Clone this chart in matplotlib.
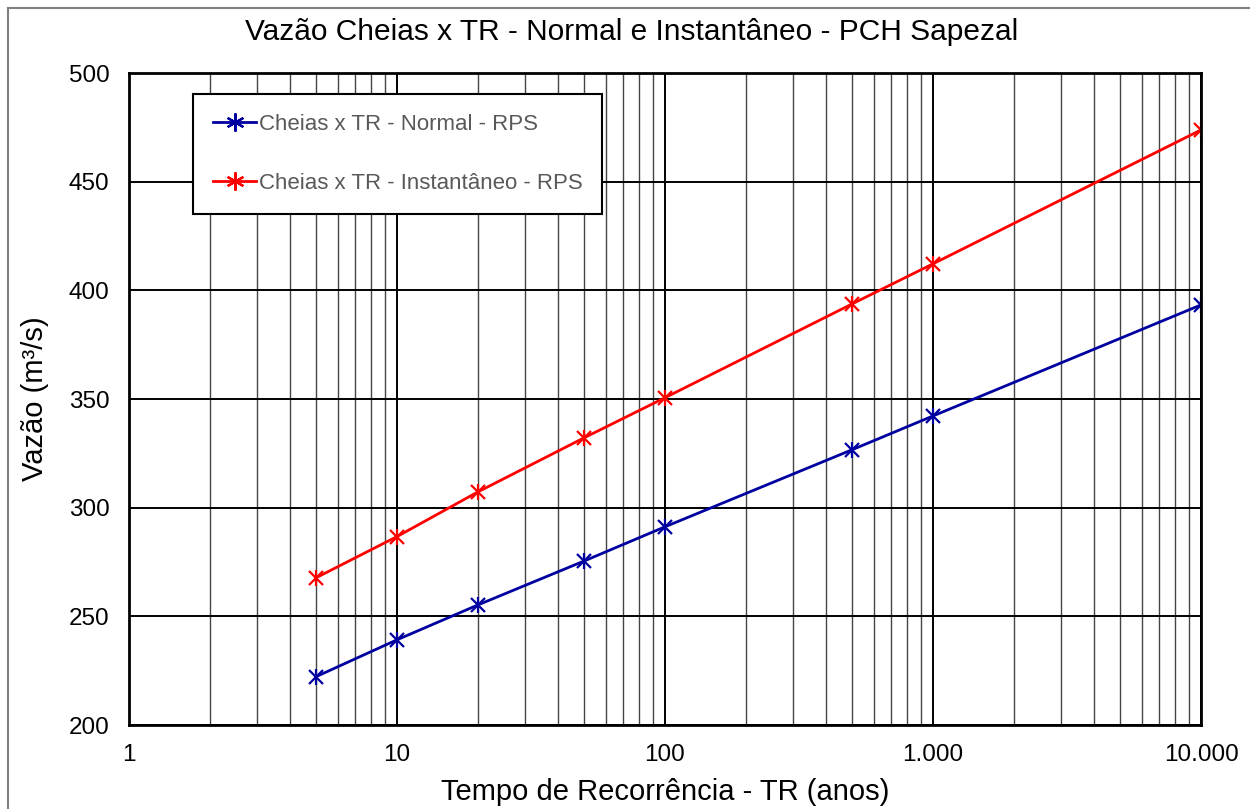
import matplotlib.pyplot as plt
from matplotlib.lines import Line2D
from matplotlib.ticker import FixedLocator, FuncFormatter, LogLocator, NullFormatter

# Tempo de recorrencia (anos) and flood discharges (m3/s)
tr_anos = [5, 10, 20, 50, 100, 500, 1000, 10000]
vazao_normal = [222.3, 239.2, 255.2, 275.5, 291.2, 326.7, 342.2, 393.3]
vazao_inst = [267.8, 286.7, 307.2, 332.2, 350.6, 393.8, 412.2, 473.8]

x_ticks = [1, 10, 100, 1000, 10000]
y_ticks = [200, 250, 300, 350, 400, 450, 500]

plt.rcParams["font.family"] = ["Liberation Sans", "DejaVu Sans"]

fig = plt.figure(figsize=(12.5, 8.09), dpi=100)
ax = fig.add_axes([129 / 1250, 1 - 725 / 809, (1201 - 129) / 1250, (725 - 73) / 809])

# Minor gridlines first, then major on top
ax.set_xscale("log")
ax.set_xlim(1, 10000)
ax.set_ylim(200, 500)
ax.xaxis.set_major_locator(FixedLocator(x_ticks))
ax.xaxis.set_minor_locator(LogLocator(base=10, subs=range(2, 10)))
ax.xaxis.set_minor_formatter(NullFormatter())
ax.xaxis.set_major_formatter(FuncFormatter(lambda v, p: f"{int(v):,}".replace(",", ".")))
ax.yaxis.set_major_locator(FixedLocator(y_ticks))
ax.grid(which="minor", axis="x", color="#444444", linewidth=1.0)
ax.grid(which="major", axis="both", color="black", linewidth=1.4)
ax.set_axisbelow(True)

ax.plot(tr_anos, vazao_normal, color="#0000a0", linewidth=2, marker="x",
        markersize=10, markeredgewidth=1.6, label="Cheias x TR - Normal - RPS")
ax.plot(tr_anos, vazao_inst, color="#ff0000", linewidth=2, marker="x",
        markersize=10, markeredgewidth=1.6, label="Cheias x TR - Instantâneo - RPS")
# star-like markers: overlay a short vertical tick
ax.plot(tr_anos, vazao_normal, linestyle="none", marker="|", markersize=11,
        markeredgewidth=1.6, color="#0000a0")
ax.plot(tr_anos, vazao_inst, linestyle="none", marker="|", markersize=11,
        markeredgewidth=1.6, color="#ff0000")

for s in ax.spines.values():
    s.set_linewidth(2)
    s.set_color("black")
ax.tick_params(which="both", length=0, labelsize=17.5, colors="black")
ax.tick_params(axis="x", pad=14)
ax.tick_params(axis="y", pad=14)

# title is centred on the whole chart area, not on the plot area
fig.text(632 / 1250, 1 - 32 / 809, "Vazão Cheias x TR - Normal e Instantâneo - PCH Sapezal",
         fontsize=21.5, ha="center", va="center")
ax.set_xlabel("Tempo de Recorrência - TR (anos)", fontsize=21, labelpad=8)
ax.set_ylabel("Vazão (m³/s)", fontsize=21, labelpad=14)

leg_handles = [
    Line2D([], [], color="#0000a0", linewidth=2, marker=(6, 2, 0), markersize=13, markeredgewidth=1.6),
    Line2D([], [], color="#ff0000", linewidth=2, marker=(6, 2, 0), markersize=13, markeredgewidth=1.6),
]
leg = ax.legend(leg_handles, ["Cheias x TR - Normal - RPS", "Cheias x TR - Instantâneo - RPS"],
                loc="upper left", bbox_to_anchor=((193 - 129) / 1072, 1 - (94 - 73) / 652),
                fontsize=16, frameon=True, fancybox=False, framealpha=1,
                edgecolor="black", labelspacing=1.7, handlelength=1.95,
                handletextpad=0.1, borderpad=0.9, borderaxespad=0)
leg.get_frame().set_linewidth(1.5)
for t in leg.get_texts():
    t.set_color("#595959")

# outer chart border (left and top edges visible)
fig.add_artist(Line2D([8 / 1250, 8 / 1250], [0, 1 - 8 / 809], transform=fig.transFigure,
                      color="#808080", linewidth=1.5))
fig.add_artist(Line2D([8 / 1250, 1], [1 - 8 / 809, 1 - 8 / 809], transform=fig.transFigure,
                      color="#808080", linewidth=1.5))

fig.savefig("out.png", dpi=100)
